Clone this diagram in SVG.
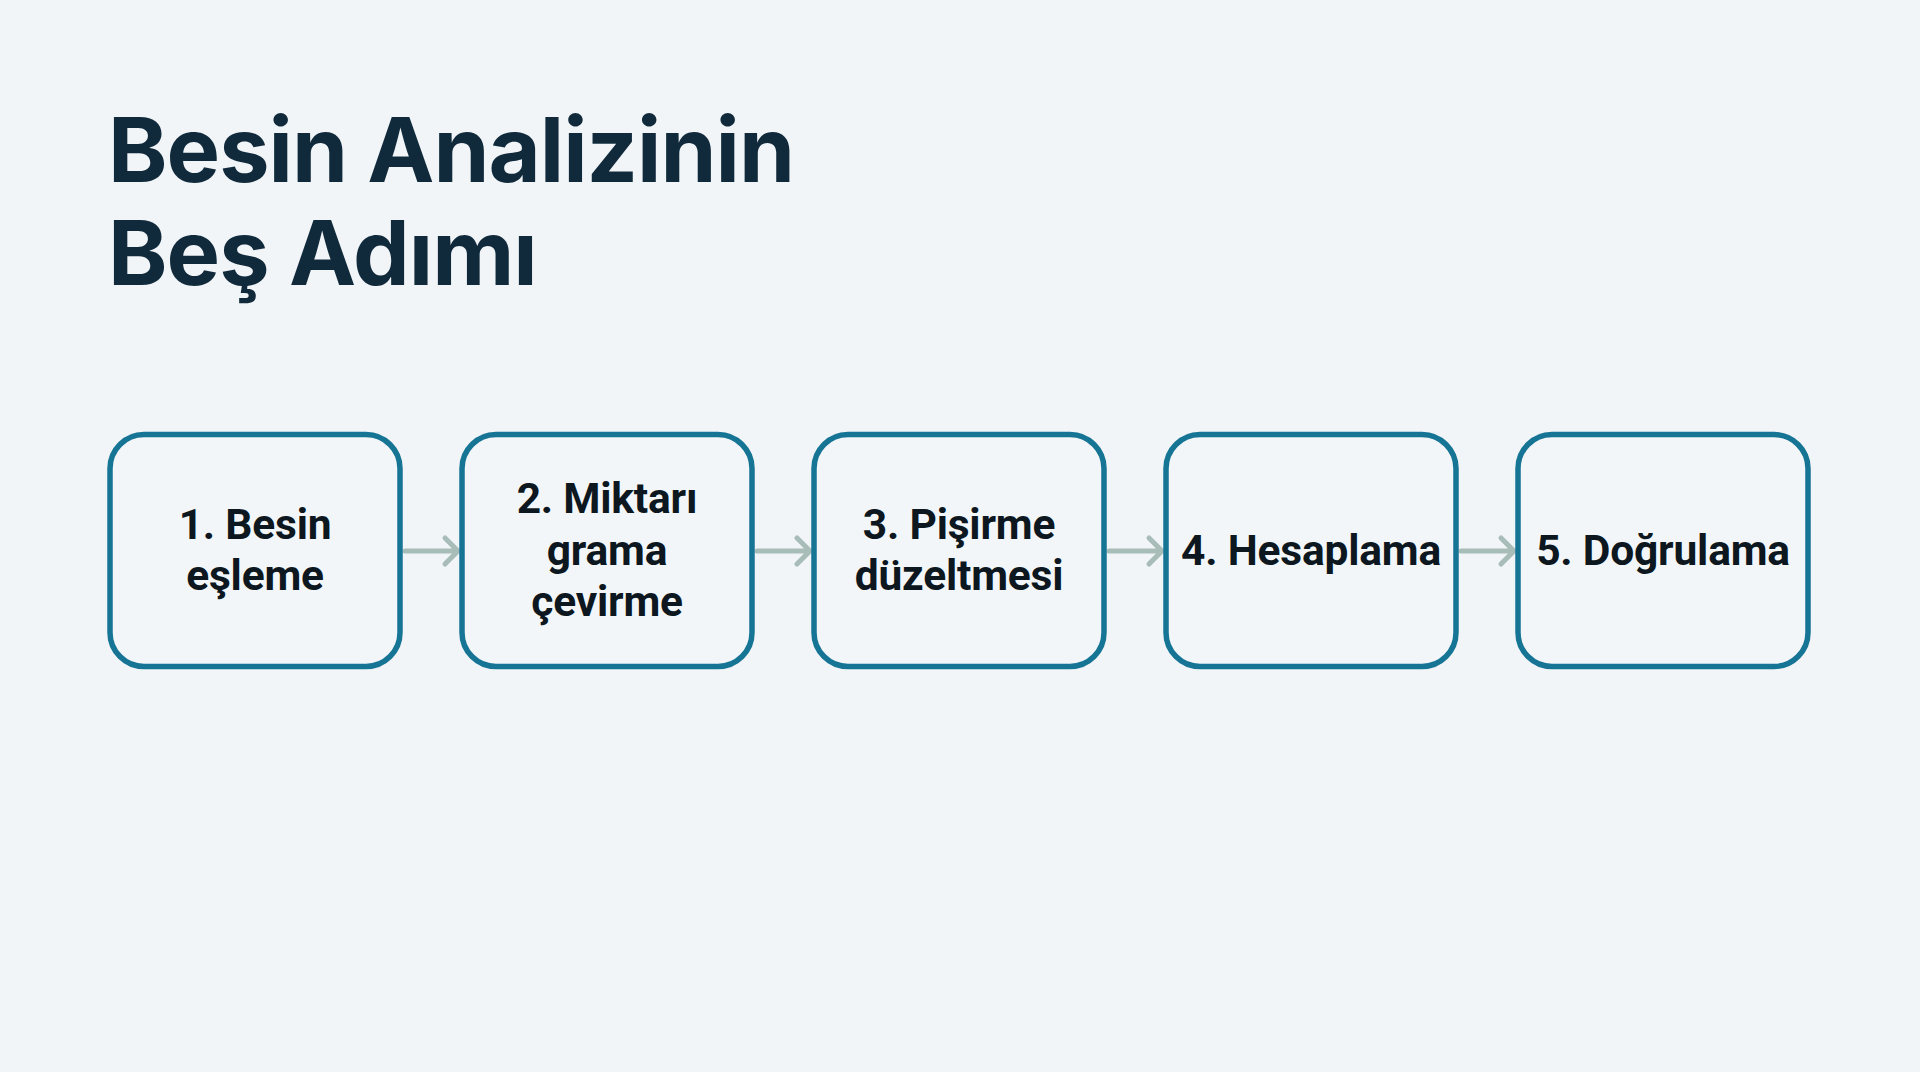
<svg xmlns="http://www.w3.org/2000/svg" width="1920" height="1072" viewBox="0 0 1920 1072">
<defs>
<style>
.title{font-family:Inter,"Liberation Sans",sans-serif;font-weight:700;font-size:90px;fill:#10293b;letter-spacing:-1px}
.box{fill:#f3f6f9;stroke:#167494;stroke-width:5.5}
.lbl{font-family:Roboto,"Liberation Sans",sans-serif;font-weight:700;font-size:42.5px;fill:#0d1720;text-anchor:middle;letter-spacing:-0.2px}
.conn{fill:none;stroke:#a9bdb8;stroke-width:5;stroke-linecap:round;stroke-linejoin:round}
</style>
</defs>
<rect x="0" y="0" width="1920" height="1072" fill="#f1f5f8"/>
<g id="title">
<text class="title" x="108" y="182">Besin Analizinin</text>
<text class="title" x="108" y="285">Beş Adımı</text>
</g>
<g id="connectors">
<path class="conn" d="M405,551 H458 M445,538 L458,551 L445,564"/>
<path class="conn" d="M757,551 H810 M797,538 L810,551 L797,564"/>
<path class="conn" d="M1109,551 H1162 M1149,538 L1162,551 L1149,564"/>
<path class="conn" d="M1461,551 H1514 M1501,538 L1514,551 L1501,564"/>
</g>
<g id="node1">
<rect class="box" x="110" y="434.5" width="290" height="232" rx="34"/>
<text class="lbl" x="255" y="539">1. Besin</text>
<text class="lbl" x="255" y="590">eşleme</text>
</g>
<g id="node2">
<rect class="box" x="462" y="434.5" width="290" height="232" rx="34"/>
<text class="lbl" x="607" y="513">2. Miktarı</text>
<text class="lbl" x="607" y="565">grama</text>
<text class="lbl" x="607" y="616">çevirme</text>
</g>
<g id="node3">
<rect class="box" x="814" y="434.5" width="290" height="232" rx="34"/>
<text class="lbl" x="959" y="539">3. Pişirme</text>
<text class="lbl" x="959" y="590">düzeltmesi</text>
</g>
<g id="node4">
<rect class="box" x="1166" y="434.5" width="290" height="232" rx="34"/>
<text class="lbl" x="1311" y="565">4. Hesaplama</text>
</g>
<g id="node5">
<rect class="box" x="1518" y="434.5" width="290" height="232" rx="34"/>
<text class="lbl" x="1663" y="565">5. Doğrulama</text>
</g>
</svg>
